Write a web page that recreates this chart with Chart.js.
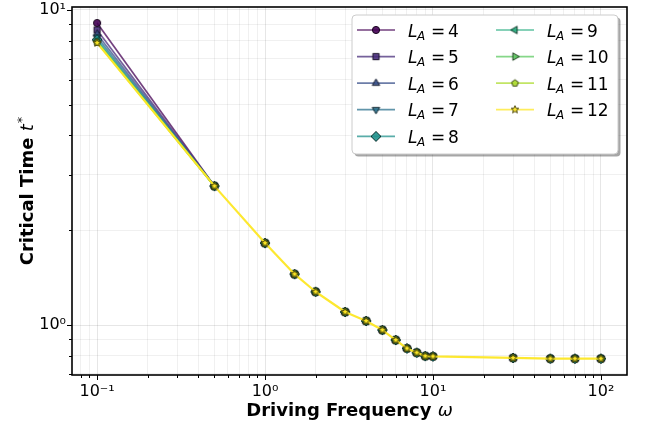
<!DOCTYPE html>
<html><head><meta charset="utf-8">
<script src="https://cdn.jsdelivr.net/npm/chart.js@4"></script>
<style>html,body{margin:0;padding:0;background:#fff;}#wrap{width:647px;height:431px;}</style>
</head><body><div id="wrap"><canvas id="c" width="647" height="431"></canvas></div>
<script>
// ---- data ----
const omega = [0.1, 0.5, 1, 1.5, 2, 3, 4, 5, 6, 7, 8, 9, 10, 30, 50, 70, 100];
const tL4  = [9.09, 2.76, 1.82, 1.45, 1.275, 1.10, 1.03, 0.964, 0.896, 0.843, 0.817, 0.797, 0.795, 0.786, 0.782, 0.782, 0.782];
const tL5  = [8.64, 2.76, 1.82, 1.45, 1.275, 1.10, 1.03, 0.964, 0.896, 0.843, 0.817, 0.797, 0.795, 0.786, 0.782, 0.782, 0.782];
const tL6  = [8.39, 2.76, 1.82, 1.45, 1.275, 1.10, 1.03, 0.964, 0.896, 0.843, 0.817, 0.797, 0.795, 0.786, 0.782, 0.782, 0.782];
const tL7  = [8.21, 2.76, 1.82, 1.45, 1.275, 1.10, 1.03, 0.964, 0.896, 0.843, 0.817, 0.797, 0.795, 0.786, 0.782, 0.782, 0.782];
const tL8  = [8.05, 2.76, 1.82, 1.45, 1.275, 1.10, 1.03, 0.964, 0.896, 0.843, 0.817, 0.797, 0.795, 0.786, 0.782, 0.782, 0.782];
const tL9  = [7.97, 2.76, 1.82, 1.45, 1.275, 1.10, 1.03, 0.964, 0.896, 0.843, 0.817, 0.797, 0.795, 0.786, 0.782, 0.782, 0.782];
const tL10 = [7.92, 2.76, 1.82, 1.45, 1.275, 1.10, 1.03, 0.964, 0.896, 0.843, 0.817, 0.797, 0.795, 0.786, 0.782, 0.782, 0.782];
const tL11 = [7.89, 2.76, 1.82, 1.45, 1.275, 1.10, 1.03, 0.964, 0.896, 0.843, 0.817, 0.797, 0.795, 0.786, 0.782, 0.782, 0.782];
const tL12 = [7.86, 2.76, 1.82, 1.45, 1.275, 1.10, 1.03, 0.964, 0.896, 0.843, 0.817, 0.797, 0.795, 0.786, 0.782, 0.782, 0.782];
const seriesValues = [tL4, tL5, tL6, tL7, tL8, tL9, tL10, tL11, tL12];
const seriesNames = ['4', '5', '6', '7', '8', '9', '10', '11', '12'];
const xMajorTicks = [0.1, 1, 10, 100];
const xMajorLabels = ['10\u207B\u00B9', '10\u2070', '10\u00B9', '10\u00B2'];
const yMajorTicks = [1, 10];
const yMajorLabels = ['10\u2070', '10\u00B9'];
const xTitle = 'Driving Frequency ';
const xTitleMath = '\u03C9';
const yTitle = 'Critical Time ';
const yTitleMath = 't';

// ---- styles ----
const colors = ['#440154','#472c7a','#3b528b','#2c728e','#21918c','#28ae80','#5ec962','#addc30','#fde725'];
const shapes = ['circle','square','triUp','triDown','diamond','triLeft','triRight','pentagon','star'];
const sizes  = [3.6, 3.1, 4.3, 4.3, 5, 4.3, 4.3, 3.5, 4];
const FONT = "'DejaVu Sans'";

function hexRgb(h){return [parseInt(h.slice(1,3),16),parseInt(h.slice(3,5),16),parseInt(h.slice(5,7),16)];}
function rgba(h,a,k){const c=hexRgb(h).map(v=>Math.round(v*(k||1)));return `rgba(${c[0]},${c[1]},${c[2]},${a})`;}

function polyPath(g,cx,cy,pts){g.moveTo(cx+pts[0][0],cy+pts[0][1]);for(let i=1;i<pts.length;i++)g.lineTo(cx+pts[i][0],cy+pts[i][1]);g.closePath();}
function regPts(n,r,start,inner){const p=[];const m=inner?2*n:n;for(let i=0;i<m;i++){const a=(start+i*360/m)*Math.PI/180;const rr=inner&&(i%2)?r*inner:r;p.push([rr*Math.cos(a),rr*Math.sin(a)]);}return p;}

function makeMarker(shape,r,fill,stroke){
  const s=Math.ceil(2*r+4);const c=document.createElement('canvas');c.width=s;c.height=s;
  const g=c.getContext('2d');const cx=s/2,cy=s/2;g.beginPath();
  switch(shape){
    case 'circle': g.arc(cx,cy,r,0,Math.PI*2); break;
    case 'square': g.rect(cx-r,cy-r,2*r,2*r); break;
    case 'triUp': polyPath(g,cx,cy,regPts(3,r,-90)); break;
    case 'triDown': polyPath(g,cx,cy,regPts(3,r,90)); break;
    case 'triLeft': polyPath(g,cx,cy,regPts(3,r,180)); break;
    case 'triRight': polyPath(g,cx,cy,regPts(3,r,0)); break;
    case 'diamond': polyPath(g,cx,cy,[[0,-r],[r,0],[0,r],[-r,0]]); break;
    case 'pentagon': polyPath(g,cx,cy,regPts(5,r,-90)); break;
    case 'star': polyPath(g,cx,cy,regPts(5,r,-90,0.45)); break;
  }
  g.fillStyle=fill;g.fill();g.lineWidth=1;g.strokeStyle=stroke;g.stroke();
  return c;
}
const markers = colors.map((c,i)=>makeMarker(shapes[i],sizes[i],rgba(c,0.9),rgba(c,0.95,0.28)));

function tickList(lo,hi){const t=[];for(let e=-2;e<=2;e++){for(let m=1;m<=9;m++){const v=+(m*Math.pow(10,e)).toPrecision(3);if(v>=lo&&v<=hi)t.push(v);}}return t;}
const xTickVals = tickList(0.0709,143);
const yTickVals = tickList(0.694,10.22);

const lineAlpha = 0.75;
const lastIdx = seriesValues.length - 1;
const datasets = seriesValues.map((arr,i)=>({
  label: 'L_A = '+seriesNames[i],
  data: omega.map((x,j)=>({x:x,y:arr[j]})),
  borderColor: rgba(colors[i], i===lastIdx ? 0.95 : lineAlpha),
  borderWidth: i===lastIdx ? 2.2 : 1.7,
  // lines coincide after the first segment; only the top-most (L_A = 12) is visible there
  segment: i===lastIdx ? undefined : {borderColor: c => c.p0DataIndex > 0 ? 'rgba(0,0,0,0)' : undefined},
  pointStyle: markers[i],
  pointRadius: sizes[i],
  pointHoverRadius: sizes[i],
  tension: 0,
  fill: false,
  order: seriesValues.length - i
}));

function fitY(s){s.width=72;s.paddingTop=0;s.paddingBottom=0;s.paddingLeft=0;s.paddingRight=0;}
function fitX(s){s.height=56;s.paddingTop=0;s.paddingBottom=0;s.paddingLeft=0;s.paddingRight=0;}

const decor = {
  id:'decor',
  afterDraw(chart){
    const ctx=chart.ctx;const a=chart.chartArea;const xs=chart.scales.x, ys=chart.scales.y;
    ctx.save();
    // ticks
    ctx.strokeStyle='#000';ctx.lineWidth=1;
    xTickVals.forEach(v=>{const p=Math.round(xs.getPixelForValue(v))+0.5;const L=xMajorTicks.includes(v)?5:3;ctx.beginPath();ctx.moveTo(p,a.bottom);ctx.lineTo(p,a.bottom+L);ctx.stroke();});
    yTickVals.forEach(v=>{const p=Math.round(ys.getPixelForValue(v))+0.5;const L=yMajorTicks.includes(v)?5:3;ctx.beginPath();ctx.moveTo(a.left,p);ctx.lineTo(a.left-L,p);ctx.stroke();});
    // frame
    ctx.lineWidth=1.6;ctx.strokeStyle='#000';
    ctx.strokeRect(a.left,a.top,a.right-a.left,a.bottom-a.top);
    // legend
    const bx=352,by=15,bw=266,bh=139,rr=4;
    function rrect(x,y,w,h,r){ctx.beginPath();ctx.moveTo(x+r,y);ctx.lineTo(x+w-r,y);ctx.quadraticCurveTo(x+w,y,x+w,y+r);ctx.lineTo(x+w,y+h-r);ctx.quadraticCurveTo(x+w,y+h,x+w-r,y+h);ctx.lineTo(x+r,y+h);ctx.quadraticCurveTo(x,y+h,x,y+h-r);ctx.lineTo(x,y+r);ctx.quadraticCurveTo(x,y,x+r,y);ctx.closePath();}
    rrect(bx+2.5,by+2.5,bw,bh,rr);ctx.fillStyle='rgba(0,0,0,0.35)';ctx.fill();
    rrect(bx,by,bw,bh,rr);ctx.fillStyle='#fff';ctx.fill();ctx.lineWidth=1;ctx.strokeStyle='#cccccc';ctx.stroke();
    const rowY=[30,56.6,83.2,109.6,136.4];
    seriesNames.forEach((nm,i)=>{
      const col=i<5?0:1;const row=i<5?i:i-5;
      const x0=col?496:357;const y=rowY[row];
      ctx.strokeStyle=rgba(colors[i],lineAlpha);ctx.lineWidth=1.7;
      ctx.beginPath();ctx.moveTo(x0,y);ctx.lineTo(x0+38,y);ctx.stroke();
      const m=markers[i];ctx.drawImage(m,x0+19-m.width/2,y-m.height/2);
      const tx=x0+51, base=y+6.5;
      ctx.fillStyle='#000';ctx.textBaseline='alphabetic';ctx.textAlign='left';
      ctx.font='italic 17px '+FONT;ctx.fillText('L',tx,base);
      ctx.font='italic 12px '+FONT;ctx.fillText('A',tx+9,base+3);
      ctx.font='17px '+FONT;ctx.fillText('=',tx+23,base);ctx.fillText(nm,tx+40,base);
    });
    // x title
    ctx.fillStyle='#000';ctx.textBaseline='alphabetic';ctx.textAlign='left';
    ctx.font='bold 18px '+FONT;const w1=ctx.measureText(xTitle).width;
    ctx.font='italic 18px '+FONT;const w2=ctx.measureText(xTitleMath).width;
    let sx=(a.left+a.right)/2-(w1+w2)/2;
    ctx.font='bold 18px '+FONT;ctx.fillText(xTitle,sx,416);
    ctx.font='italic 18px '+FONT;ctx.fillText(xTitleMath,sx+w1,416);
    // y title
    ctx.save();ctx.translate(0,(a.top+a.bottom)/2);ctx.rotate(-Math.PI/2);
    ctx.font='bold 18px '+FONT;const v1=ctx.measureText(yTitle).width;
    ctx.font='italic 18px '+FONT;const v2=ctx.measureText(yTitleMath).width;
    ctx.font='13px '+FONT;const v3=ctx.measureText('*').width;
    let u=-(v1+v2+v3+1)/2;
    ctx.font='bold 18px '+FONT;ctx.fillText(yTitle,u,33);
    ctx.font='italic 18px '+FONT;ctx.fillText(yTitleMath,u+v1,33);
    ctx.font='13px '+FONT;ctx.fillText('*',u+v1+v2+1,26);
    ctx.restore();
    ctx.restore();
  }
};

new Chart(document.getElementById('c'),{
  type:'line',
  data:{datasets:datasets},
  options:{
    responsive:false,animation:false,devicePixelRatio:1,
    layout:{padding:{left:0,top:7,right:20,bottom:0}},
    plugins:{legend:{display:false},tooltip:{enabled:false}},
    elements:{line:{borderJoinStyle:'round'}},
    scales:{
      x:{type:'logarithmic',min:0.0709,max:143,
        afterBuildTicks:s=>{s.ticks=xTickVals.map(v=>({value:v}));},
        afterFit:fitX,
        border:{display:false},
        grid:{drawTicks:false,lineWidth:0.9,color:c=>xMajorTicks.includes(c.tick&&c.tick.value)?'rgba(0,0,0,0.11)':'rgba(0,0,0,0.065)'},
        ticks:{autoSkip:false,maxRotation:0,padding:7,color:'#000',font:{family:'DejaVu Sans',size:16},
          callback:v=>{const k=xMajorTicks.indexOf(v);return k>=0?xMajorLabels[k]:'';}}
      },
      y:{type:'logarithmic',min:0.694,max:10.22,
        afterBuildTicks:s=>{s.ticks=yTickVals.map(v=>({value:v}));},
        afterFit:fitY,
        border:{display:false},
        grid:{drawTicks:false,lineWidth:0.9,color:c=>yMajorTicks.includes(c.tick&&c.tick.value)?'rgba(0,0,0,0.11)':'rgba(0,0,0,0.065)'},
        ticks:{autoSkip:false,padding:6,color:'#000',font:{family:'DejaVu Sans',size:16},
          callback:v=>{const k=yMajorTicks.indexOf(v);return k>=0?yMajorLabels[k]:'';}}
      }
    }
  },
  plugins:[decor]
});
</script></body></html>
